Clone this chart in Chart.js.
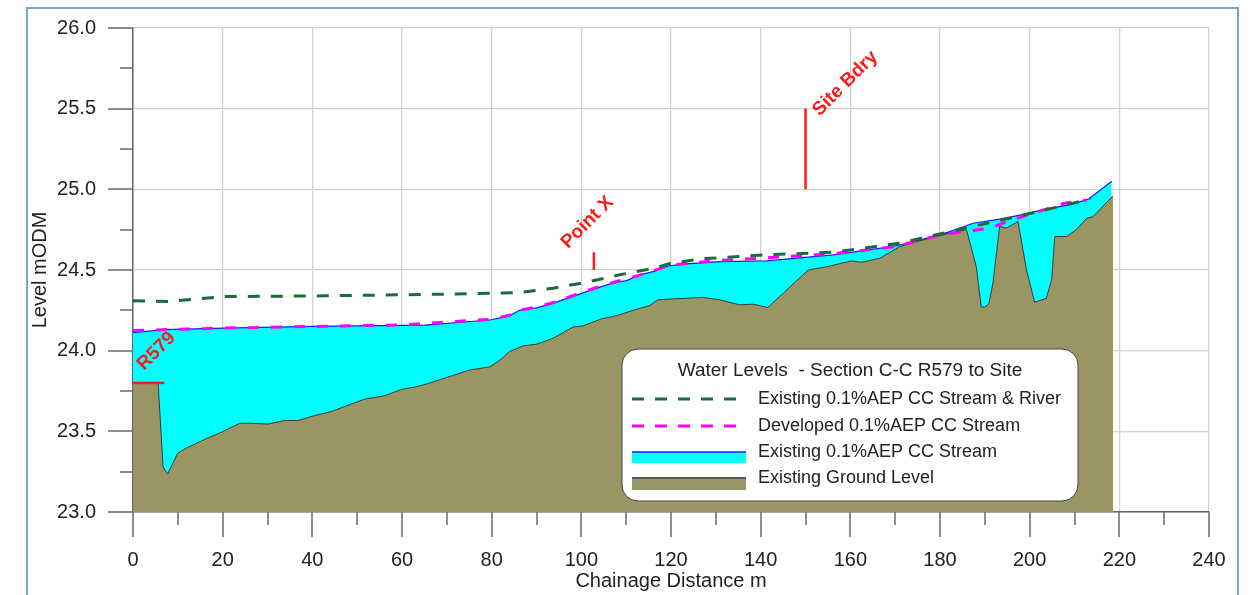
<!DOCTYPE html>
<html><head><meta charset="utf-8">
<script src="https://cdn.jsdelivr.net/npm/chart.js@4.4.1/dist/chart.umd.min.js"></script>
<style>
html,body{margin:0;padding:0;background:#fff;overflow:hidden;}
#wrap{position:relative;width:1253px;height:595px;}
#frame{position:absolute;left:26px;top:7px;width:1213px;height:640px;border:2px solid #7ea2d6;box-sizing:border-box;pointer-events:none;}
</style></head><body>
<div id="wrap"><canvas id="c" width="1253" height="595"></canvas><div id="frame"></div></div>
<script>
// ---------- DATA ----------
const groundX = [0, 5.6, 6.7, 7.7, 10.0, 11.9, 16, 19, 23.8, 26.4, 30.1, 33.8, 36.8, 40.5, 44.3, 47.2, 51.7, 56.1, 59.9, 62.8, 65.1, 68.4, 75.1, 79.6, 81.8, 84.0, 87.0, 90.0, 93.7, 98.1, 100.4, 104.5, 107.8, 111.5, 115.3, 117.1, 119.7, 127.1, 130.9, 135.3, 138.3, 141.6, 150.6, 154.7, 160.2, 162.5, 166.6, 171.0, 174.8, 182.2, 185.9, 188.1, 189.2, 190.0, 190.9, 191.8, 193.3, 194.8, 197.4, 199.3, 201.1, 203.7, 204.9, 205.6, 208.2, 210.4, 212.7, 214.1, 218.6];
const groundY = [23.80, 23.80, 23.28, 23.235, 23.365, 23.396, 23.45, 23.485, 23.55, 23.55, 23.545, 23.567, 23.567, 23.598, 23.623, 23.654, 23.70, 23.72, 23.76, 23.774, 23.79, 23.82, 23.88, 23.90, 23.94, 23.995, 24.03, 24.04, 24.077, 24.146, 24.154, 24.197, 24.216, 24.25, 24.28, 24.315, 24.32, 24.33, 24.315, 24.284, 24.288, 24.267, 24.50, 24.52, 24.556, 24.548, 24.573, 24.645, 24.676, 24.728, 24.75, 24.52, 24.27, 24.27, 24.29, 24.418, 24.77, 24.76, 24.80, 24.50, 24.30, 24.325, 24.44, 24.707, 24.707, 24.75, 24.82, 24.83, 24.96];

const waterX = [0, 7, 20.4, 40, 65, 79.6, 84, 86.2, 88.5, 90, 93.7, 98.1, 101.1, 104.5, 107.1, 110.1, 113.0, 116.0, 119.3, 123.4, 130.9, 141.3, 156.1, 168, 171, 178.5, 182.2, 187.4, 193.3, 197.8, 202.5, 209.7, 213.2, 218.3];
const waterY = [24.112, 24.13, 24.14, 24.15, 24.158, 24.19, 24.216, 24.25, 24.263, 24.265, 24.295, 24.335, 24.366, 24.397, 24.42, 24.434, 24.47, 24.49, 24.525, 24.538, 24.552, 24.556, 24.594, 24.64, 24.655, 24.707, 24.738, 24.79, 24.815, 24.84, 24.87, 24.91, 24.94, 25.05];

const existingX = [0, 7.8, 20.4, 42.8, 65, 86.2, 93.7, 101.1, 108.6, 116, 119.7, 127.1, 141.3, 156.1, 171, 182.2, 197, 212.7, 213.5];
const existingY = [24.31, 24.305, 24.335, 24.34, 24.348, 24.36, 24.387, 24.424, 24.47, 24.51, 24.54, 24.57, 24.594, 24.61, 24.666, 24.738, 24.83, 24.934, 24.945];

const developedX = [0, 20, 40, 60, 80, 84, 86, 90, 94, 98, 101, 104.5, 108, 112, 116, 120, 125, 131, 141, 156, 170, 180, 191, 196, 207.8, 212.7];
const developedY = [24.125, 24.14, 24.15, 24.16, 24.195, 24.22, 24.25, 24.27, 24.30, 24.34, 24.37, 24.40, 24.43, 24.46, 24.495, 24.53, 24.545, 24.56, 24.575, 24.6, 24.645, 24.717, 24.759, 24.81, 24.914, 24.934];

// red reference markers: each from (x0,y0) to (x1,y1)
const markerLabels = ['R579', 'Point X', 'Site Bdry'];
const markerX0 = [0, 102.8, 150];
const markerX1 = [7, 102.8, 150];
const markerY0 = [23.80, 24.50, 25.00];
const markerY1 = [23.80, 24.61, 25.50];

const xTickLabels = [0, 20, 40, 60, 80, 100, 120, 140, 160, 180, 200, 220, 240];
const yTickLabels = ['23.0', '23.5', '24.0', '24.5', '25.0', '25.5', '26.0'];

const legendTitle = 'Water Levels  - Section C-C R579 to Site';
const seriesNames = ['Existing 0.1%AEP CC Stream & River', 'Developed 0.1%AEP CC Stream', 'Existing 0.1%AEP CC Stream', 'Existing Ground Level'];

// ---------- STYLE ----------
const FONT = '"Liberation Sans", Arial, sans-serif';
const C_GREEN = '#1b6b3d', C_MAG = '#ff00ff', C_CYAN = '#00ffff', C_BLUE = '#1a1aff', C_OLIVE = '#9a9664', C_GLINE = '#3a3a3a', C_RED = '#ff1a1a';

const pts = (xs, ys) => xs.map((x, i) => ({x, y: ys[i]}));

const markerSets = markerLabels.map((name, i) => ({
  label: name,
  data: [{x: markerX0[i], y: markerY0[i]}, {x: markerX1[i], y: markerY1[i]}],
  borderColor: C_RED, borderWidth: 2.5, pointRadius: 0, fill: false, order: 0, clip: false
}));

const datasets = [
  ...markerSets,
  {label: seriesNames[0], data: pts(existingX, existingY), borderColor: C_GREEN, borderWidth: 3, borderDash: [12, 11], pointRadius: 0, fill: false, order: 1},
  {label: seriesNames[1], data: pts(developedX, developedY), borderColor: C_MAG, borderWidth: 3, borderDash: [11, 12], pointRadius: 0, fill: false, order: 2},
  {label: seriesNames[3], data: pts(groundX, groundY), borderColor: C_GLINE, borderWidth: 1, backgroundColor: C_OLIVE, pointRadius: 0, fill: 'start', order: 3},
  {label: seriesNames[2], data: pts(waterX, waterY), borderColor: C_BLUE, borderWidth: 1.2, backgroundColor: C_CYAN, pointRadius: 0, fill: 'start', order: 4}
];

// minor/major tick marks
const tickMarks = {
  id: 'tickMarks',
  afterDraw(chart) {
    const {ctx, scales: {x, y}, chartArea: a} = chart;
    ctx.save();
    ctx.strokeStyle = '#6a6a6a';
    ctx.lineWidth = 1.5;
    ctx.beginPath();
    for (let i = 0; i <= 24; i++) {
      const px = Math.round(x.getPixelForValue(i * 10));
      const len = i % 2 === 0 ? 25 : 13;
      ctx.moveTo(px, a.bottom); ctx.lineTo(px, a.bottom + len);
    }
    for (let i = 0; i <= 12; i++) {
      const py = Math.round(y.getPixelForValue(23 + i * 0.25));
      const len = i % 2 === 0 ? 25 : 13;
      ctx.moveTo(a.left, py); ctx.lineTo(a.left - len, py);
    }
    ctx.stroke();
    ctx.restore();
  }
};

// rotated red marker labels
const markerText = {
  id: 'markerText',
  afterDatasetsDraw(chart) {
    const {ctx, scales: {x, y}} = chart;
    const offs = [[11, -12], [-26, -3], [14, 8]];
    ctx.save();
    ctx.fillStyle = C_RED;
    ctx.font = 'bold 19px ' + FONT;
    ctx.textBaseline = 'alphabetic';
    ctx.textAlign = 'left';
    markerLabels.forEach((t, i) => {
      const ax = x.getPixelForValue(i === 0 ? markerX0[i] : markerX1[i]);
      const ay = y.getPixelForValue(markerY1[i]);
      ctx.save();
      ctx.translate(ax + offs[i][0], ay + offs[i][1]);
      ctx.rotate(-Math.PI / 4);
      ctx.fillText(t, 0, 0);
      ctx.restore();
    });
    ctx.restore();
  }
};

// boxed legend
const boxLegend = {
  id: 'boxLegend',
  afterDraw(chart) {
    const {ctx, chartArea: a} = chart;
    const L = a.left + 489, T = 349, W = 456, H = 152;
    ctx.save();
    ctx.beginPath();
    ctx.roundRect(L, T, W, H, 16);
    ctx.fillStyle = '#ffffff';
    ctx.fill();
    ctx.lineWidth = 1;
    ctx.strokeStyle = '#444';
    ctx.stroke();

    ctx.fillStyle = '#222';
    ctx.font = '19px ' + FONT;
    ctx.textAlign = 'center';
    ctx.textBaseline = 'middle';
    ctx.fillText(legendTitle, L + W / 2, T + 22);

    const sx0 = L + 10, sx1 = L + 124, tx = L + 136;
    const rows = [T + 50, T + 77, T + 103, T + 129];
    ctx.lineWidth = 3;
    ctx.setLineDash([12, 11]);
    ctx.strokeStyle = C_GREEN;
    ctx.beginPath(); ctx.moveTo(sx0, rows[0]); ctx.lineTo(sx1, rows[0]); ctx.stroke();
    ctx.strokeStyle = C_MAG;
    ctx.beginPath(); ctx.moveTo(sx0, rows[1]); ctx.lineTo(sx1, rows[1]); ctx.stroke();
    ctx.setLineDash([]);
    ctx.fillStyle = C_CYAN;
    ctx.fillRect(sx0, rows[2], sx1 - sx0, 11);
    ctx.strokeStyle = C_BLUE; ctx.lineWidth = 1.5;
    ctx.beginPath(); ctx.moveTo(sx0, rows[2]); ctx.lineTo(sx1, rows[2]); ctx.stroke();
    ctx.fillStyle = C_OLIVE;
    ctx.fillRect(sx0, rows[3], sx1 - sx0, 12);
    ctx.strokeStyle = '#555'; ctx.lineWidth = 2;
    ctx.beginPath(); ctx.moveTo(sx0, rows[3]); ctx.lineTo(sx1, rows[3]); ctx.stroke();

    ctx.fillStyle = '#222';
    ctx.font = '18px ' + FONT;
    ctx.textAlign = 'left';
    ctx.textBaseline = 'middle';
    seriesNames.forEach((n, i) => ctx.fillText(n, tx, rows[i]));
    ctx.restore();
  }
};

Chart.defaults.font.family = FONT;
Chart.defaults.color = '#222';

new Chart(document.getElementById('c'), {
  type: 'line',
  data: {datasets},
  options: {
    responsive: false,
    animation: false,
    devicePixelRatio: 1,
    layout: {padding: {top: 28, right: 44, left: 0, bottom: 0}},
    elements: {line: {tension: 0}},
    plugins: {legend: {display: false}, tooltip: {enabled: false}},
    scales: {
      x: {
        type: 'linear', min: 0, max: 240,
        afterFit: s => { s.height = 83; s.paddingLeft = 0; s.paddingRight = 0; s.paddingTop = 0; s.paddingBottom = 0; },
        afterBuildTicks: s => { s.ticks = xTickLabels.map(v => ({value: v})); },
        ticks: {autoSkip: false, maxRotation: 0, padding: 36, font: {size: 20}, color: '#222', callback: v => String(v)},
        grid: {color: '#d2d2d2', lineWidth: 1.3, drawTicks: false},
        border: {color: '#666', width: 1.5},
        title: {display: true, text: 'Chainage Distance m', font: {size: 20}, color: '#222', padding: {top: 0, bottom: 2}}
      },
      y: {
        type: 'linear', min: 23, max: 26,
        afterFit: s => { s.width = 133; s.paddingLeft = 0; s.paddingRight = 0; s.paddingTop = 0; s.paddingBottom = 0; },
        afterBuildTicks: s => { s.ticks = yTickLabels.map(v => ({value: parseFloat(v)})); },
        ticks: {autoSkip: false, padding: 37, font: {size: 20}, color: '#222', callback: v => Number(v).toFixed(1)},
        grid: {color: '#d2d2d2', lineWidth: 1.3, drawTicks: false},
        border: {color: '#666', width: 1.5},
        title: {display: true, text: 'Level mODM', font: {size: 20}, color: '#222', padding: {top: 28, bottom: 0}}
      }
    }
  },
  plugins: [tickMarks, markerText, boxLegend]
});
</script>
</body></html>
